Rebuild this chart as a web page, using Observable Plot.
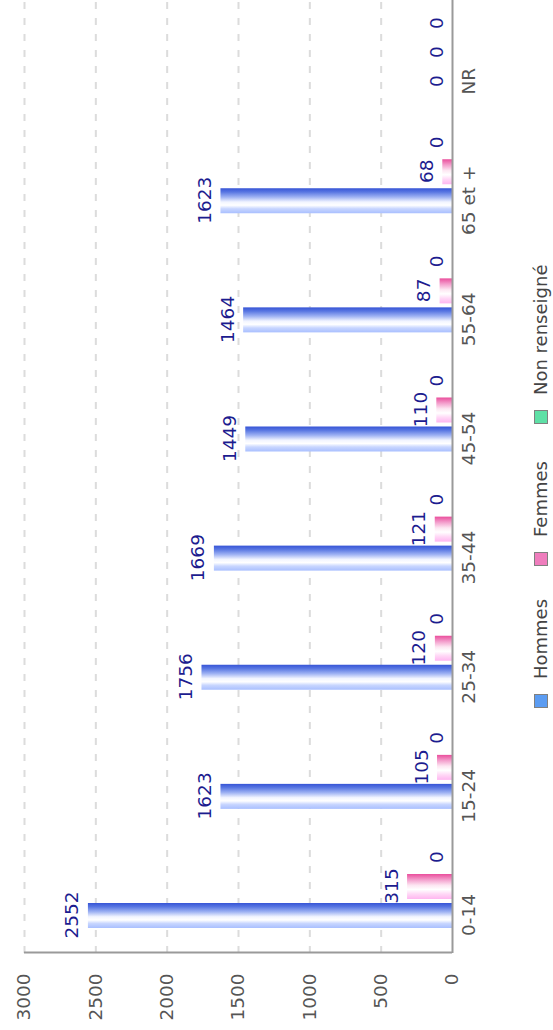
<!DOCTYPE html>
<html>
<head>
<meta charset="utf-8">
<script src="https://cdn.jsdelivr.net/npm/d3@7"></script>
<script src="https://cdn.jsdelivr.net/npm/@observablehq/plot@0.6"></script>
<style>
html, body { margin: 0; padding: 0; background: #fff; width: 553px; height: 1030px; overflow: hidden; }
#wrap { position: absolute; left: 0; top: 0; width: 1030px; height: 560px;
  transform-origin: 0 0; transform: translate(0px, 1030px) rotate(-90deg);
  font-family: "DejaVu Sans", sans-serif; background: #fff; }
.legend { display: flex; justify-content: flex-start; align-items: center; height: 22px;
  padding-left: 322px; font-size: 18px; line-height: 22px; color: #444; }
.legend .item { display: flex; align-items: center; width: 142px; flex: none; }
.legend .item:last-child { width: auto; }
.legend .sw { display: inline-block; width: 12px; height: 12px; border: 1.5px solid #808080; margin-right: 15px; }
</style>
</head>
<body>
<div id="wrap"></div>
<script>
// ---- data ----
const categories = ["0-14", "15-24", "25-34", "35-44", "45-54", "55-64", "65 et +", "NR"];
const seriesNames = ["Hommes", "Femmes", "Non renseigné"];
const hommes = [2552, 1623, 1756, 1669, 1449, 1464, 1623, 0];
const femmes = [315, 105, 120, 121, 110, 87, 68, 0];
const nonRenseigne = [0, 0, 0, 0, 0, 0, 0, 0];
const yTicks = [0, 500, 1000, 1500, 2000, 2500, 3000];

// ---- styles ----
const legendColors = ["#5b9cf2", "#ef7dbd", "#5ee0a6"];
const W = 1030, H = 530, ML = 77, MR = 0, MT = 24, MB = 78;
const BW = (W - ML - MR) / categories.length;
const slots = [[25, 50], [54, 79], [83, 108]]; // bar extents inside each category band
const labelColor = "#1c1c8f", axisText = "#555", axisLine = "#9a9a9a";
const FS = 18.5;

const seriesValues = [hommes, femmes, nonRenseigne];
const rows = categories.flatMap((c, i) => seriesNames.map((s, k) => ({category: c, series: s, value: seriesValues[k][i]})));

const barMarks = seriesNames.map((s, k) => Plot.barY(rows.filter(d => d.series === s), {
  x: "category", y: "value", fill: `url(#grad${k})`,
  insetLeft: slots[k][0], insetRight: BW - slots[k][1]
}));
const valueLabels = seriesNames.map((s, k) => Plot.text(rows.filter(d => d.series === s), {
  x: "category", y: "value", text: d => String(d.value),
  dx: (slots[k][0] + slots[k][1]) / 2 - BW / 2, dy: -10, lineAnchor: "bottom",
  fill: labelColor, fontSize: FS
}));

const svg = Plot.plot({
  width: W, height: H,
  marginLeft: ML, marginRight: MR, marginTop: MT, marginBottom: MB,
  style: {fontFamily: "DejaVu Sans, sans-serif", fontSize: FS + "px", background: "white", overflow: "visible"},
  x: {type: "band", domain: categories, padding: 0, round: false, axis: null},
  y: {domain: [0, 3000], axis: null},
  marks: [
    Plot.ruleY(yTicks.filter(v => v > 0), {stroke: "#dcdcdc", strokeWidth: 2, strokeDasharray: "7,9"}),
    ...barMarks,
    Plot.ruleY([0], {stroke: axisLine, strokeWidth: 2}),
    Plot.ruleX([categories[0]], {y1: 0, y2: 3000, dx: -BW / 2, stroke: axisLine, strokeWidth: 2}),
    ...valueLabels,
    Plot.text(categories, {x: d => d, text: d => d, frameAnchor: "bottom", lineAnchor: "top",
      dy: 9, dx: (slots[0][0] + slots[0][1]) / 2 - BW / 2, fill: axisText, fontSize: FS}),
    Plot.text(yTicks, {y: d => d, text: d => String(d), frameAnchor: "left", textAnchor: "end",
      lineAnchor: "middle", dx: -21, fill: axisText, fontSize: FS})
  ]
});

svg.insertAdjacentHTML("afterbegin", `
<defs>
  <linearGradient id="grad0" x1="0" y1="0" x2="1" y2="0">
    <stop offset="0" stop-color="#a9bfff"/>
    <stop offset="0.18" stop-color="#c8d6ff"/>
    <stop offset="0.32" stop-color="#ffffff"/>
    <stop offset="0.45" stop-color="#f2f5ff"/>
    <stop offset="0.65" stop-color="#9db1f3"/>
    <stop offset="0.85" stop-color="#5876e2"/>
    <stop offset="1" stop-color="#3654d6"/>
  </linearGradient>
  <linearGradient id="grad1" x1="0" y1="0" x2="1" y2="0">
    <stop offset="0" stop-color="#ffb6f0"/>
    <stop offset="0.2" stop-color="#ffd8f6"/>
    <stop offset="0.38" stop-color="#ffffff"/>
    <stop offset="0.55" stop-color="#fde6f2"/>
    <stop offset="0.78" stop-color="#f39ccb"/>
    <stop offset="1" stop-color="#ea4e9c"/>
  </linearGradient>
  <linearGradient id="grad2" x1="0" y1="0" x2="1" y2="0">
    <stop offset="0" stop-color="#b4f5da"/>
    <stop offset="0.38" stop-color="#ffffff"/>
    <stop offset="1" stop-color="#3fcf90"/>
  </linearGradient>
</defs>`);

const wrap = document.getElementById("wrap");
wrap.appendChild(svg);

const legend = document.createElement("div");
legend.className = "legend";
seriesNames.forEach((s, k) => {
  const item = document.createElement("div");
  item.className = "item";
  const sw = document.createElement("span");
  sw.className = "sw";
  sw.style.background = legendColors[k];
  const t = document.createElement("span");
  t.textContent = s;
  item.appendChild(sw);
  item.appendChild(t);
  legend.appendChild(item);
});
wrap.appendChild(legend);
</script>
</body>
</html>
